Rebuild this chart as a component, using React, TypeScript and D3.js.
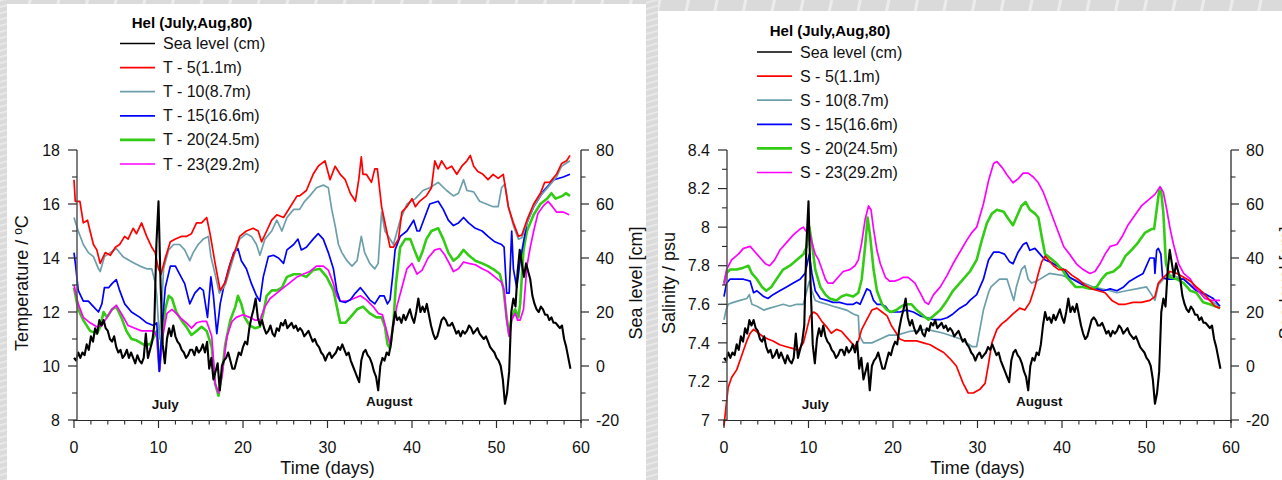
import React from "react";
import * as d3 from "d3";

type Pt = [number, number];

// Sea level record at Hel, sampled every quarter day (cm)
const SEA_LEVEL_STEP = 0.25;
const SEA_LEVEL: number[] = [
  3, 2, 5, 3, 5, 4, 8, 6, 11, 9, 14, 12, 17, 15, 17, 14,
  13, 10, 9, 11, 7, 5, 6, 3, 4, 6, 3, 5, 3, 1, 4, 2,
  1, 3, 12, 3, 6, 9, 15, 45, 61, 30, 8, 1, 10, 14, 11, 15,
  11, 9, 8, 6, 5, 3, 4, 6, 6, 4, 7, 5, 6, 8, 5, 9,
  -1, 3, -5, -2, 1, -9, 0, 2, 3, 5, 2, -1, -1, 2, 5, 4,
  7, 9, 8, 14, 18, 21, 25, 18, 15, 17, 14, 12, 13, 15, 12, 11,
  14, 13, 16, 15, 17, 14, 15, 16, 14, 15, 13, 14, 13, 11, 12, 13,
  11, 9, 10, 8, 7, 5, 4, 2, 4, 5, 3, 4, 5, 7, 6, 8,
  6, 4, 5, 2, 0, -2, -4, -6, 2, 5, 6, 4, 3, 1, -2, -4,
  -9, 0, 3, 2, 5, 4, 8, 15, 20, 17, 18, 16, 19, 17, 19, 21,
  18, 16, 20, 25, 20, 22, 20, 23, 19, 15, 12, 10, 11, 14, 17, 18,
  17, 15, 15, 16, 14, 12, 13, 11, 13, 12, 13, 15, 14, 12, 13, 14,
  12, 11, 10, 11, 9, 7, 6, 5, 3, 2, 0, -5, -14, -10, -2, 20,
  25, 22, 35, 43, 38, 33, 38, 35, 32, 26, 23, 21, 20, 22, 21, 19,
  19, 17, 18, 16, 16, 15, 14, 15, 10, 7, 3, -1,
];

// Temperature (°C) at the five depths
const T5: Pt[] = [[0,16.9],[0.15,16.1],[0.7,16.1],[1.1,15.3],[1.6,15.4],[1.9,15.0],[2.3,14.5],[2.7,14.3],[3.1,13.8],[3.7,14.2],[4.3,14.1],[4.9,14.4],[5.4,14.5],[6.0,14.8],[6.4,14.7],[7.0,15.1],[7.4,14.9],[8.0,15.3],[8.6,14.8],[9.2,14.4],[9.6,14.2],[10.0,13.6],[10.3,13.4],[10.8,14.0],[11.4,14.6],[12.0,14.7],[12.7,14.8],[13.3,14.8],[13.9,14.9],[14.5,15.3],[15.1,15.3],[15.7,15.5],[16.1,14.9],[16.7,13.8],[17.3,12.8],[17.9,13.1],[18.5,13.8],[19.1,14.3],[19.6,14.8],[20.4,15.0],[21.2,15.1],[21.8,15.0],[22.2,14.6],[22.8,15.0],[23.4,15.4],[24.0,15.6],[24.8,15.5],[25.6,15.9],[26.4,16.3],[26.7,16.3],[27.5,16.5],[28.3,17.1],[28.9,17.4],[29.7,17.6],[30.3,16.9],[30.9,17.4],[31.5,17.1],[32.1,16.9],[32.7,16.4],[33.3,16.1],[33.7,16.9],[34.0,17.75],[34.2,17.1],[34.6,17.1],[35.2,16.8],[35.6,17.3],[35.9,17.3],[36.4,15.9],[37.0,15.0],[37.4,14.4],[37.8,14.4],[38.4,14.7],[38.8,15.7],[39.4,15.9],[40.0,16.2],[40.4,15.9],[40.9,16.1],[41.7,16.3],[42.3,16.6],[42.7,17.6],[43.1,17.3],[43.5,17.6],[44.1,17.3],[44.7,17.4],[45.3,17.1],[45.9,17.4],[46.5,17.6],[46.9,17.8],[47.3,17.4],[47.8,17.2],[48.4,17.1],[49.0,16.9],[49.6,17.1],[50.2,16.95],[50.8,17.1],[51.4,15.9],[52.0,15.3],[52.6,14.8],[53.0,14.85],[53.6,15.4],[54.4,16.0],[55.2,16.4],[55.7,16.8],[56.3,16.8],[57.1,17.1],[57.7,17.5],[58.3,17.6],[58.7,17.8]];
const T10: Pt[] = [[0,15.5],[0.5,15.0],[1.1,14.5],[1.7,14.2],[2.3,14.05],[2.9,13.6],[3.1,13.5],[3.6,14.05],[4.3,14.2],[5.0,14.35],[5.8,14.05],[6.6,13.9],[7.2,13.8],[7.8,13.7],[8.6,13.6],[9.2,13.6],[9.6,13.1],[9.8,12.6],[10.1,11.0],[10.4,12.3],[10.6,13.6],[11.2,14.3],[11.8,14.5],[12.5,14.5],[13.1,14.3],[13.7,13.9],[14.1,14.2],[14.7,14.5],[15.3,14.7],[15.9,14.8],[16.2,14.05],[16.7,13.4],[17.2,12.7],[17.9,13.0],[18.9,14.05],[19.6,14.7],[20.4,14.9],[21.0,14.8],[21.6,14.5],[22.0,14.1],[22.6,14.7],[23.4,15.0],[24.0,15.4],[24.6,15.0],[25.2,15.5],[26.0,15.8],[26.7,15.8],[27.3,16.1],[27.9,16.3],[28.7,16.6],[29.5,16.7],[30.1,16.6],[30.5,15.8],[30.9,15.2],[31.3,14.5],[31.7,14.2],[32.3,13.9],[32.9,13.7],[33.5,13.9],[34.0,14.8],[34.4,14.2],[35.0,13.8],[35.6,13.6],[36.0,13.8],[36.4,15.7],[36.8,15.0],[37.2,14.8],[37.8,14.5],[38.6,15.4],[39.4,16.0],[40.4,16.2],[41.3,16.5],[42.1,16.6],[43.1,16.8],[44.1,16.5],[44.9,16.3],[45.5,16.4],[46.1,16.9],[46.5,16.5],[47.3,16.45],[48.0,16.1],[48.8,16.0],[49.6,15.9],[50.2,15.9],[50.6,16.6],[51.0,16.75],[51.4,15.9],[52.0,15.2],[52.6,14.7],[53.0,14.75],[53.6,15.3],[54.4,15.9],[55.2,16.3],[56.3,16.7],[57.1,17.0],[57.7,17.4],[58.7,17.6]];
const T15: Pt[] = [[0,14.2],[0.2,13.7],[0.5,12.8],[1.1,12.4],[1.7,12.4],[2.3,12.2],[2.9,12.0],[3.3,12.3],[3.6,12.9],[4.1,12.9],[4.5,13.05],[5.0,13.2],[5.4,12.8],[6.0,12.3],[6.8,12.0],[7.8,11.8],[8.6,11.6],[9.4,11.5],[9.8,11.6],[10.1,9.8],[10.4,11.3],[10.8,12.9],[11.4,13.7],[12.0,13.7],[12.5,13.4],[13.1,13.05],[13.7,12.3],[14.3,12.7],[14.9,12.9],[15.3,12.8],[15.8,11.8],[16.2,13.3],[16.5,12.6],[16.9,11.2],[17.3,12.3],[17.7,12.9],[18.3,13.6],[18.9,14.2],[19.4,14.35],[19.8,13.9],[20.4,13.6],[21.0,13.05],[21.6,12.6],[22.0,12.4],[22.4,13.3],[23.0,14.05],[23.6,14.1],[24.2,14.0],[24.8,13.8],[25.2,14.3],[26.0,14.5],[26.5,14.7],[26.9,14.3],[27.5,14.4],[28.3,14.7],[28.9,14.9],[29.5,14.7],[30.1,14.2],[30.7,13.6],[31.1,12.8],[31.5,12.4],[32.1,12.35],[32.7,12.45],[33.3,12.7],[33.9,12.9],[34.4,12.7],[35.0,12.45],[35.6,12.3],[36.2,12.6],[36.7,12.6],[37.1,12.3],[37.4,12.45],[37.7,13.3],[38.0,14.3],[38.6,14.8],[39.4,15.0],[40.2,15.4],[40.6,15.0],[40.9,15.0],[41.5,15.5],[42.1,16.0],[43.1,16.1],[43.7,15.8],[44.3,15.4],[44.9,15.2],[45.5,15.3],[46.1,15.5],[46.7,15.3],[47.5,15.1],[48.3,15.0],[49.0,14.8],[49.8,14.6],[50.6,14.5],[50.9,14.4],[51.2,12.7],[51.5,12.7],[51.8,15.0],[52.0,13.6],[52.4,12.9],[52.8,13.9],[53.6,15.3],[54.4,15.9],[55.6,16.5],[56.8,16.9],[57.9,17.0],[58.7,17.1]];
const T20: Pt[] = [[0,12.9],[0.5,12.1],[1.1,11.7],[1.9,11.3],[2.7,11.2],[3.1,11.45],[3.5,12.0],[3.9,11.8],[4.5,12.1],[5.0,12.2],[5.6,11.8],[6.2,11.3],[6.8,11.0],[7.4,10.95],[8.2,10.8],[9.0,10.8],[9.5,11.1],[9.8,11.3],[10.1,9.85],[10.4,11.1],[10.8,12.1],[11.2,12.6],[11.6,12.5],[12.1,12.0],[12.7,11.7],[13.3,11.45],[13.9,11.15],[14.5,11.3],[15.1,11.45],[15.7,11.3],[16.3,10.7],[16.7,9.35],[17.1,8.9],[17.5,9.7],[17.9,10.8],[18.5,11.7],[19.1,12.2],[19.4,12.6],[19.8,12.3],[20.2,11.8],[20.8,11.5],[21.4,11.4],[22.0,11.45],[22.4,11.95],[22.8,12.6],[23.4,12.8],[24.0,12.8],[24.6,12.9],[25.2,13.3],[26.0,13.4],[26.7,13.4],[27.5,13.3],[28.3,13.55],[29.1,13.6],[29.9,13.3],[30.7,12.8],[31.1,12.2],[31.5,11.6],[32.1,11.6],[32.7,11.8],[33.5,12.1],[34.2,12.2],[35.0,11.95],[35.8,11.8],[36.4,11.8],[36.8,11.45],[37.1,10.8],[37.4,10.65],[37.8,11.6],[38.1,13.05],[38.6,14.4],[39.2,14.7],[39.8,14.7],[40.4,14.2],[40.8,13.9],[41.2,14.2],[41.7,14.7],[42.3,15.0],[43.1,15.1],[43.7,14.7],[44.3,14.2],[44.9,13.9],[45.5,14.05],[46.1,14.3],[46.7,14.1],[47.5,13.9],[48.3,13.8],[49.0,13.7],[49.8,13.55],[50.4,13.4],[50.8,12.9],[51.2,11.8],[51.5,11.15],[51.8,11.8],[52.2,12.1],[52.6,11.8],[52.8,12.3],[53.2,14.3],[53.6,15.0],[54.4,15.6],[55.2,16.0],[56.0,16.2],[56.5,16.4],[57.0,16.2],[57.8,16.3],[58.2,16.4],[58.7,16.3]];
const T23: Pt[] = [[0,13.0],[0.5,12.3],[1.1,11.8],[1.9,11.6],[2.7,11.45],[3.3,11.5],[3.9,11.8],[4.5,12.1],[5.0,12.25],[5.6,11.95],[6.4,11.5],[7.2,11.4],[8.0,11.3],[8.8,11.3],[9.4,11.3],[9.8,11.1],[10.1,9.8],[10.5,11.1],[11.0,11.95],[11.6,12.1],[12.1,11.95],[12.7,11.75],[13.3,11.6],[13.9,11.4],[14.5,11.6],[15.1,11.65],[15.7,11.65],[16.3,11.1],[16.7,9.35],[17.1,9.0],[17.5,9.6],[18.1,11.1],[18.7,11.65],[19.2,11.8],[20.0,11.9],[20.8,11.8],[21.4,11.7],[22.0,11.7],[22.6,12.2],[23.2,12.5],[24.0,12.7],[24.8,12.9],[25.6,13.1],[26.4,13.3],[27.1,13.4],[27.9,13.5],[28.7,13.7],[29.5,13.7],[30.1,13.55],[30.7,13.05],[31.1,12.6],[31.5,12.4],[32.3,12.4],[33.1,12.5],[33.9,12.6],[34.6,12.45],[35.4,12.2],[36.0,11.95],[36.5,11.9],[37.0,11.3],[37.4,10.8],[37.7,11.3],[38.2,12.2],[38.8,12.9],[39.4,13.6],[40.0,13.8],[40.6,13.4],[41.2,13.55],[41.9,14.0],[42.7,14.3],[43.3,14.35],[43.9,14.1],[44.5,13.75],[44.9,13.5],[45.5,13.6],[46.1,13.85],[46.7,13.8],[47.5,13.75],[48.3,13.6],[49.0,13.5],[49.8,13.3],[50.6,13.1],[50.9,12.8],[51.2,11.7],[51.5,11.1],[51.8,11.7],[52.2,11.95],[52.5,11.7],[52.8,11.7],[53.2,12.1],[53.6,13.7],[54.0,14.4],[54.4,15.0],[54.9,15.65],[55.6,15.95],[56.1,16.1],[56.5,15.95],[57.1,15.7],[57.9,15.7],[58.6,15.6]];

// Salinity (psu) at the five depths
const S5: Pt[] = [[0,6.97],[0.24,7.07],[0.5,7.17],[0.9,7.22],[1.5,7.26],[1.9,7.31],[2.3,7.36],[2.7,7.41],[3.1,7.45],[3.5,7.47],[4.1,7.45],[4.7,7.43],[5.2,7.42],[5.8,7.41],[6.6,7.39],[7.4,7.38],[8.2,7.37],[8.8,7.36],[9.4,7.4],[9.8,7.47],[10.2,7.54],[10.6,7.56],[11.0,7.55],[11.6,7.51],[12.2,7.48],[12.7,7.45],[13.3,7.47],[13.9,7.46],[14.5,7.43],[15.1,7.4],[15.5,7.38],[15.9,7.41],[16.3,7.47],[16.9,7.52],[17.5,7.57],[18.1,7.58],[18.7,7.56],[19.3,7.54],[19.8,7.49],[20.4,7.45],[20.8,7.42],[21.4,7.41],[22.0,7.41],[22.8,7.41],[23.6,7.4],[24.4,7.39],[25.2,7.37],[26.0,7.35],[26.7,7.32],[27.5,7.28],[28.3,7.19],[28.9,7.14],[29.5,7.14],[30.3,7.16],[30.9,7.19],[31.3,7.29],[31.7,7.4],[32.3,7.47],[32.9,7.5],[33.5,7.52],[34.2,7.55],[35.0,7.58],[35.6,7.57],[36.2,7.61],[36.8,7.69],[37.2,7.76],[37.6,7.82],[38.0,7.85],[38.4,7.83],[39.0,7.8],[39.6,7.78],[40.4,7.78],[41.2,7.75],[41.9,7.73],[42.7,7.7],[43.5,7.68],[44.3,7.67],[45.1,7.66],[45.9,7.62],[46.7,7.6],[47.5,7.6],[48.4,7.61],[49.4,7.61],[50.4,7.62],[51.0,7.64],[51.4,7.71],[52.0,7.74],[52.8,7.77],[53.6,7.76],[54.4,7.74],[55.2,7.72],[55.9,7.69],[56.7,7.66],[57.5,7.62],[58.1,7.59],[58.7,7.58]];
const S10: Pt[] = [[0,7.52],[0.24,7.57],[0.5,7.6],[1.1,7.61],[1.9,7.62],[2.7,7.63],[3.0,7.65],[3.3,7.6],[3.9,7.59],[4.7,7.57],[5.4,7.58],[6.2,7.59],[7.0,7.6],[7.8,7.59],[8.6,7.6],[9.4,7.6],[9.8,7.67],[10.1,7.72],[10.4,7.67],[10.8,7.62],[11.4,7.61],[12.2,7.6],[12.9,7.59],[13.7,7.58],[14.5,7.57],[15.3,7.55],[15.9,7.54],[16.0,7.44],[16.5,7.4],[17.5,7.4],[18.5,7.42],[19.5,7.44],[20.5,7.44],[22.0,7.46],[24.0,7.47],[26.0,7.45],[28.0,7.42],[29.4,7.38],[29.9,7.38],[30.7,7.57],[31.3,7.66],[31.6,7.69],[32.6,7.73],[33.5,7.73],[34.0,7.66],[34.3,7.62],[34.6,7.69],[35.2,7.78],[35.6,7.8],[36.0,7.73],[36.4,7.71],[37.0,7.72],[38.5,7.76],[40.0,7.75],[42.0,7.72],[43.7,7.69],[45.7,7.67],[46.5,7.66],[47.6,7.67],[48.8,7.68],[50.0,7.69],[50.6,7.65],[51.0,7.62],[51.4,7.7],[52.0,7.73],[53.0,7.75],[54.4,7.73],[55.9,7.68],[57.5,7.62],[58.7,7.59]];
const S15: Pt[] = [[0,7.64],[0.3,7.71],[0.7,7.73],[1.5,7.73],[2.3,7.73],[3.1,7.72],[3.5,7.66],[3.9,7.67],[4.7,7.64],[5.2,7.63],[5.8,7.65],[6.6,7.67],[7.4,7.69],[8.2,7.71],[9.0,7.73],[9.6,7.76],[10.1,7.86],[10.4,7.76],[10.8,7.67],[11.4,7.63],[12.2,7.62],[12.9,7.61],[13.7,7.61],[14.5,7.6],[15.3,7.6],[15.7,7.61],[16.1,7.6],[16.5,7.64],[16.9,7.68],[17.3,7.67],[17.7,7.62],[18.1,7.6],[18.5,7.6],[19.1,7.59],[19.6,7.56],[20.2,7.56],[20.8,7.56],[21.6,7.57],[22.4,7.56],[23.2,7.54],[24.0,7.53],[24.8,7.52],[25.6,7.52],[26.4,7.53],[27.1,7.55],[27.9,7.58],[28.7,7.6],[29.1,7.62],[29.9,7.65],[30.7,7.73],[31.3,7.83],[31.9,7.87],[32.6,7.87],[33.2,7.86],[33.8,7.82],[34.2,7.81],[34.8,7.87],[35.4,7.91],[35.8,7.92],[36.2,7.88],[36.8,7.89],[37.4,7.86],[38.0,7.83],[38.6,7.82],[39.4,7.8],[40.2,7.78],[40.9,7.74],[41.7,7.72],[42.5,7.7],[43.3,7.68],[44.1,7.68],[44.9,7.67],[45.7,7.68],[46.5,7.67],[47.3,7.69],[48.0,7.72],[48.8,7.74],[49.6,7.76],[50.4,7.84],[50.9,7.84],[51.0,7.76],[51.2,7.88],[51.4,7.89],[51.7,7.86],[51.9,7.74],[52.4,7.73],[54.4,7.73],[55.9,7.67],[57.1,7.65],[57.9,7.63],[58.7,7.59]];
const S20: Pt[] = [[0,7.71],[0.3,7.76],[0.7,7.78],[1.5,7.78],[2.3,7.79],[2.9,7.8],[3.3,7.76],[3.9,7.73],[4.5,7.69],[5.0,7.67],[5.6,7.69],[6.2,7.73],[7.0,7.78],[7.8,7.8],[8.6,7.83],[9.4,7.86],[9.8,7.9],[10.1,8.0],[10.4,7.92],[10.8,7.78],[11.4,7.69],[12.0,7.65],[12.5,7.63],[13.3,7.62],[13.9,7.64],[14.5,7.65],[15.3,7.64],[15.9,7.66],[16.3,7.73],[16.7,7.9],[17.0,8.05],[17.3,7.95],[17.7,7.78],[18.1,7.67],[18.7,7.6],[19.3,7.57],[19.8,7.56],[20.4,7.57],[21.0,7.59],[21.6,7.6],[22.2,7.6],[22.8,7.57],[23.6,7.54],[24.2,7.52],[24.8,7.54],[25.6,7.57],[26.4,7.62],[27.1,7.67],[27.9,7.71],[28.7,7.75],[29.1,7.77],[29.9,7.83],[30.5,7.93],[31.1,8.02],[31.7,8.07],[32.3,8.09],[33.1,8.08],[33.7,8.04],[34.2,8.01],[34.6,8.05],[35.2,8.11],[35.7,8.13],[36.2,8.09],[36.8,8.07],[37.2,8.05],[37.6,7.95],[38.0,7.86],[38.6,7.84],[39.4,7.81],[40.0,7.78],[40.6,7.74],[41.2,7.71],[41.6,7.69],[42.5,7.69],[43.3,7.68],[44.1,7.69],[44.7,7.73],[45.3,7.76],[46.1,7.77],[46.9,7.8],[47.5,7.85],[48.2,7.88],[49.0,7.92],[49.8,7.97],[50.6,7.99],[50.9,7.99],[51.2,8.09],[51.5,8.19],[51.7,8.2],[52.0,8.07],[52.3,7.81],[52.8,7.74],[53.6,7.73],[54.4,7.71],[55.2,7.67],[55.9,7.66],[56.7,7.61],[57.5,7.6],[58.7,7.58]];
const S23: Pt[] = [[0,7.7],[0.3,7.78],[0.9,7.83],[1.7,7.86],[2.3,7.89],[3.1,7.9],[3.7,7.87],[4.3,7.84],[4.9,7.81],[5.4,7.8],[6.0,7.83],[6.6,7.88],[7.4,7.92],[8.2,7.96],[9.0,7.99],[9.4,8.0],[9.7,7.98],[10.0,7.99],[10.4,7.92],[10.8,7.86],[11.2,7.83],[11.6,7.78],[12.0,7.73],[12.3,7.71],[12.9,7.71],[13.5,7.74],[14.1,7.77],[14.9,7.78],[15.5,7.8],[15.9,7.83],[16.3,7.92],[16.7,8.04],[17.1,8.11],[17.4,8.09],[17.7,7.99],[18.1,7.88],[18.5,7.81],[19.1,7.74],[19.6,7.72],[20.2,7.72],[20.8,7.73],[21.2,7.74],[21.8,7.74],[22.6,7.71],[23.2,7.66],[23.8,7.61],[24.2,7.6],[24.8,7.65],[25.6,7.69],[26.4,7.75],[27.1,7.81],[27.9,7.87],[28.7,7.93],[29.3,7.97],[29.9,8.0],[30.7,8.12],[31.3,8.24],[31.9,8.33],[32.3,8.34],[32.9,8.31],[33.5,8.27],[34.2,8.23],[34.8,8.25],[35.4,8.28],[36.0,8.28],[36.6,8.26],[37.2,8.23],[37.8,8.18],[38.4,8.11],[39.0,8.04],[39.6,7.97],[40.2,7.9],[40.9,7.86],[41.7,7.81],[42.5,7.78],[43.3,7.76],[43.9,7.77],[44.5,7.81],[45.1,7.86],[45.7,7.9],[46.5,7.91],[47.1,7.95],[47.8,8.01],[48.6,8.06],[49.4,8.11],[50.2,8.14],[51.0,8.17],[51.6,8.21],[52.0,8.18],[52.4,8.09],[52.8,7.99],[53.2,7.91],[53.8,7.81],[54.4,7.76],[55.2,7.73],[55.7,7.69],[56.3,7.66],[56.9,7.63],[57.7,7.62],[58.7,7.62]];

// Axis ticks
const X_MAJOR = [0, 10, 20, 30, 40, 50, 60];
const X_MINOR = [2, 4, 6, 8, 12, 14, 16, 18, 22, 24, 26, 28, 32, 34, 36, 38, 42, 44, 46, 48, 52, 54, 56, 58];
const T_MAJOR = [8, 10, 12, 14, 16, 18];
const T_MINOR = [9, 11, 13, 15, 17];
const S_MAJOR = [7, 7.2, 7.4, 7.6, 7.8, 8, 8.2, 8.4];
const S_MINOR = [7.1, 7.3, 7.5, 7.7, 7.9, 8.1, 8.3];
const SL_MAJOR = [-20, 0, 20, 40, 60, 80];
const SL_MINOR = [-10, 10, 30, 50, 70];

const DEPTHS = ["5(1.1m)", "10(8.7m)", "15(16.6m)", "20(24.5m)", "23(29.2m)"];
const COLORS = ["#ff0000", "#6c9fab", "#0000ff", "#33cc14", "#ff00ff"];
const WIDTHS = [1.7, 1.7, 1.7, 2.6, 1.7];
const MONTHS: { label: string; day: number }[] = [
  { label: "July", day: 10.8 },
  { label: "August", day: 37.3 },
];

const FONT = "'Liberation Sans', Arial, Helvetica, sans-serif";

interface Series {
  data: Pt[];
  color: string;
  width: number;
  label: string;
}

interface PanelProps {
  x0: number; // pixel of day 0
  x60: number; // pixel of day 60
  yAxisX: number;
  leftDomain: [number, number];
  leftMajor: number[];
  leftMinor: number[];
  leftLabel: React.ReactNode;
  leftLabelX: number;
  rightLabelX: number;
  series: Series[]; // in legend order
  drawOrder: number[];
  titleX: number;
  titleY: number;
  legendX: number;
  legendY: number;
}

const TOP = 150;
const BOTTOM = 420;

function Panel(p: PanelProps) {
  const x = d3.scaleLinear().domain([0, 60]).range([p.x0, p.x60]);
  const yL = d3.scaleLinear().domain(p.leftDomain).range([BOTTOM, TOP]);
  const yR = d3.scaleLinear().domain([-20, 80]).range([BOTTOM, TOP]);
  const lineL = d3.line<Pt>().x((d) => x(d[0])).y((d) => yL(d[1]));
  const seaPts: Pt[] = SEA_LEVEL.map((v, i) => [i * SEA_LEVEL_STEP, v]);
  const lineR = d3.line<Pt>().x((d) => x(d[0])).y((d) => yR(d[1]));
  const axisColor = "#2a2a2a";
  const rightX = p.x60;
  const fmt = (v: number) => String(+v.toFixed(1));

  const legendRows = [
    { label: "Sea level (cm)", color: "#000", width: 1.7 },
    ...p.series.map((s) => ({ label: s.label, color: s.color, width: s.width })),
  ];

  return (
    <g fontFamily={FONT}>
      {/* data */}
      {p.drawOrder.map((i) => (
        <path
          key={i}
          d={lineL(p.series[i].data) || ""}
          fill="none"
          stroke={p.series[i].color}
          strokeWidth={p.series[i].width}
          strokeLinejoin="round"
        />
      ))}
      <path d={lineR(seaPts) || ""} fill="none" stroke="#000" strokeWidth={2.1} strokeLinejoin="round" />

      {/* x axis */}
      <line x1={p.x0 - 1} x2={rightX} y1={BOTTOM + 0.5} y2={BOTTOM + 0.5} stroke={axisColor} strokeWidth={1.2} />
      {X_MAJOR.map((t) => (
        <g key={"xM" + t}>
          <line x1={x(t)} x2={x(t)} y1={BOTTOM} y2={BOTTOM + 8} stroke={axisColor} strokeWidth={1.2} />
          <text x={x(t)} y={453} textAnchor="middle" fontSize={16} fill="#111">
            {t}
          </text>
        </g>
      ))}
      {X_MINOR.map((t) => (
        <line key={"xm" + t} x1={x(t)} x2={x(t)} y1={BOTTOM} y2={BOTTOM + 4.5} stroke={axisColor} strokeWidth={1.1} />
      ))}
      <text x={x(30)} y={474} textAnchor="middle" fontSize={18} fill="#111">
        Time (days)
      </text>

      {/* left axis */}
      <line x1={p.yAxisX} x2={p.yAxisX} y1={TOP} y2={BOTTOM + 0.5} stroke="#555" strokeWidth={1.5} />
      {p.leftMajor.map((t) => (
        <g key={"lM" + t}>
          <line x1={p.yAxisX - 9} x2={p.yAxisX} y1={yL(t)} y2={yL(t)} stroke={axisColor} strokeWidth={1.2} />
          <text x={p.yAxisX - 17} y={yL(t)} dy="0.36em" textAnchor="end" fontSize={16} fill="#111">
            {fmt(t)}
          </text>
        </g>
      ))}
      {p.leftMinor.map((t) => (
        <line key={"lm" + t} x1={p.yAxisX - 5} x2={p.yAxisX} y1={yL(t)} y2={yL(t)} stroke={axisColor} strokeWidth={1.1} />
      ))}
      <g transform={`translate(${p.leftLabelX},283) rotate(-90)`}>
        <text textAnchor="middle" fontSize={18} fill="#111">
          {p.leftLabel}
        </text>
      </g>

      {/* right axis */}
      <line x1={rightX} x2={rightX} y1={TOP} y2={BOTTOM + 3} stroke={axisColor} strokeWidth={1.3} />
      {SL_MAJOR.map((t) => (
        <g key={"rM" + t}>
          <line x1={rightX} x2={rightX + 8} y1={yR(t)} y2={yR(t)} stroke={axisColor} strokeWidth={1.2} />
          <text x={rightX + 15} y={yR(t)} dy="0.36em" textAnchor="start" fontSize={16} fill="#111">
            {t}
          </text>
        </g>
      ))}
      {SL_MINOR.map((t) => (
        <line key={"rm" + t} x1={rightX} x2={rightX + 4.5} y1={yR(t)} y2={yR(t)} stroke={axisColor} strokeWidth={1.1} />
      ))}
      <g transform={`translate(${p.rightLabelX},283) rotate(-90)`}>
        <text textAnchor="middle" fontSize={18} fill="#111">
          Sea level [cm]
        </text>
      </g>

      {/* month markers */}
      {MONTHS.map((m, i) => (
        <text key={m.label} x={x(m.day)} y={i === 0 ? 409 : 406} textAnchor="middle" fontSize={13.5} fontWeight="bold" fill="#111">
          {m.label}
        </text>
      ))}

      {/* legend */}
      <text x={p.titleX} y={p.titleY} textAnchor="middle" fontSize={15} fontWeight="bold" fill="#000">
        Hel (July,Aug,80)
      </text>
      {legendRows.map((r, i) => {
        const yy = p.legendY + i * 24.1;
        return (
          <g key={r.label}>
            <line x1={p.legendX} x2={p.legendX + 35} y1={yy} y2={yy} stroke={r.color} strokeWidth={r.width} />
            <text x={p.legendX + 43} y={yy + 5.5} fontSize={16} fill="#111">
              {r.label}
            </text>
          </g>
        );
      })}
    </g>
  );
}

export default function App() {
  const tSeries: Series[] = [T5, T10, T15, T20, T23].map((d, i) => ({
    data: d,
    color: COLORS[i],
    width: WIDTHS[i],
    label: "T - " + DEPTHS[i],
  }));
  const sSeries: Series[] = [S5, S10, S15, S20, S23].map((d, i) => ({
    data: d,
    color: COLORS[i],
    width: WIDTHS[i],
    label: "S - " + DEPTHS[i],
  }));

  return (
    <svg
      width={1282}
      height={480}
      style={{ position: "absolute", left: 0, top: 0, display: "block" }}
      xmlns="http://www.w3.org/2000/svg"
    >
      <defs>
        <pattern id="stripesA" width="28" height="28" patternUnits="userSpaceOnUse" patternTransform="rotate(12)">
          <rect width="28" height="28" fill="#dadada" />
          <rect x="0" width="3" height="28" fill="#ececec" />
        </pattern>
        <pattern id="stripesB" width="8" height="6" patternUnits="userSpaceOnUse" patternTransform="rotate(-16)">
          <rect width="8" height="6" fill="#dadada" />
          <rect y="0" width="8" height="1.6" fill="#ebebeb" />
        </pattern>
      </defs>
      <rect width={1282} height={480} fill="url(#stripesA)" />
      <rect x={646} y={0} width={12} height={480} fill="url(#stripesB)" />
      <rect x={0} y={0} width={7} height={480} fill="url(#stripesB)" />

      {/* panels */}
      <rect x={7} y={4} width={639} height={476} fill="#ffffff" />
      <rect x={658} y={11} width={624} height={469} fill="#ffffff" />

      <Panel
        x0={74}
        x60={581}
        yAxisX={77}
        leftDomain={[8, 18]}
        leftMajor={T_MAJOR}
        leftMinor={T_MINOR}
        leftLabel={
          <>
            Temperature / <tspan fontSize={12} dy={-6}>o</tspan>
            <tspan dy={6}>C</tspan>
          </>
        }
        leftLabelX={28}
        rightLabelX={642}
        series={tSeries}
        drawOrder={[3, 4, 2, 1, 0]}
        titleX={192}
        titleY={28}
        legendX={120}
        legendY={43.5}
      />
      <Panel
        x0={724}
        x60={1231}
        yAxisX={727}
        leftDomain={[7, 8.4]}
        leftMajor={S_MAJOR}
        leftMinor={S_MINOR}
        leftLabel={<>Salinity / psu</>}
        leftLabelX={675}
        rightLabelX={1292}
        series={sSeries}
        drawOrder={[1, 2, 3, 4, 0]}
        titleX={830}
        titleY={36}
        legendX={757}
        legendY={52}
      />
    </svg>
  );
}
